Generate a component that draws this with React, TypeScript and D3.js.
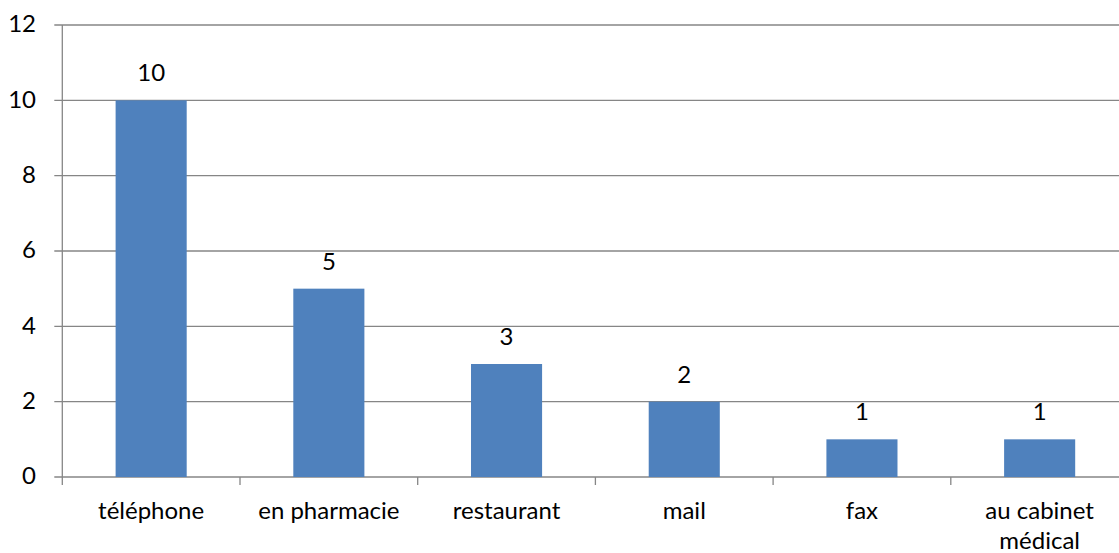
import React from "react";
import * as d3 from "d3";

const categories: string[][] = [["téléphone"], ["en pharmacie"], ["restaurant"], ["mail"], ["fax"], ["au cabinet", "médical"]];
const values: number[] = [10, 5, 3, 2, 1, 1];
const yTicks: number[] = [0, 2, 4, 6, 8, 10, 12];

const W = 1119;
const H = 553;
const left = 62.3;
const bandW = 177.7;
const font = "Lato, 'Open Sans', sans-serif";
const fs = 24;

export default function App() {
  const keys = categories.map((c) => c.join(" "));
  const x = d3.scaleBand<string>().domain(keys).range([left, left + bandW * 6]).paddingInner(0).paddingOuter(0);
  const y = d3.scaleLinear().domain([0, 12]).range([477, 25]);
  const barW = bandW * 0.4;
  const grid = "#868686";
  return (
    <svg width={W} height={H} style={{ position: "absolute", left: 0, top: 0, background: "#fff" }}>
      {yTicks.map((t) => (
        <g key={t}>
          <line x1={left - 8} x2={W} y1={y(t)} y2={y(t)} stroke={grid} strokeWidth={1.3} />
          <text x={36} y={y(t)} dy="0.3em" textAnchor="end" fontFamily={font} fontSize={fs} fill="#000">{t}</text>
        </g>
      ))}
      <line x1={left} x2={left} y1={y(12)} y2={485} stroke={grid} strokeWidth={1.3} />
      {keys.map((k, i) => (
        <line key={"t" + i} x1={x(k)! + bandW} x2={x(k)! + bandW} y1={y(0)} y2={485} stroke={grid} strokeWidth={1.3} />
      ))}
      {keys.map((k, i) => {
        const cx = x(k)! + bandW / 2;
        return (
          <g key={k}>
            <rect x={cx - barW / 2} y={y(values[i])} width={barW} height={y(0) - y(values[i])} fill="#4F81BD" />
            <text x={cx} y={y(values[i]) - 19} textAnchor="middle" fontFamily={font} fontSize={fs} fill="#000">{values[i]}</text>
            {categories[i].map((line, j) => (
              <text key={j} x={cx} y={519 + j * 30} textAnchor="middle" fontFamily={font} fontSize={fs} fill="#000">{line}</text>
            ))}
          </g>
        );
      })}
    </svg>
  );
}
